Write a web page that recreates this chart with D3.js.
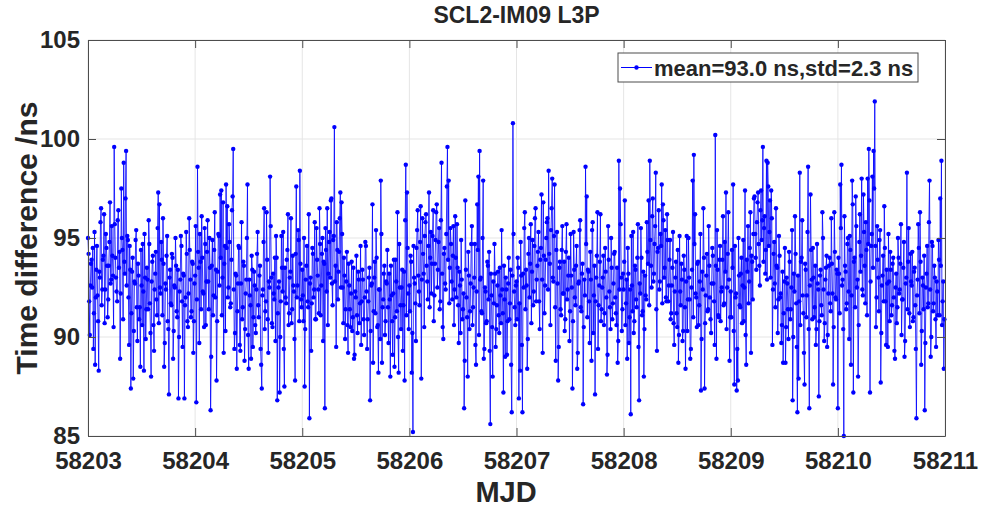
<!DOCTYPE html>
<html><head><meta charset="utf-8">
<script src="https://cdn.jsdelivr.net/npm/d3@7"></script>
<style>body{margin:0;background:#fff}svg{display:block}text{font-family:"Liberation Sans",Arial,sans-serif;font-weight:bold;fill:#262626}</style>
</head><body><svg id="c" width="984" height="508"></svg>
<script>
const title = "SCL2-IM09 L3P";
const xLabel = "MJD";
const yLabel = "Time difference /ns";
const legendLabel = "mean=93.0 ns,std=2.3 ns";
const startMJD = 58203;
const samplesPerDay = 180;
const xTicks = [58203,58204,58205,58206,58207,58208,58209,58210,58211];
const yTicks = [85,90,95,100,105];
// samples on the even slots of each day
const day0 = [95.0,91.8,92.6,93.9,94.5,91.2,88.6,93.4,92.1,88.3,93.0,96.5,92.4,94.1,90.7,95.2,93.6,91.9,94.8,92.7,95.6,93.1,99.6,94.0,92.3,95.9,93.5,88.9,97.5,94.4,98.8,93.2,99.4,95.1,92.0,94.6,87.4,93.3,87.9,92.8,94.9,91.5,93.7,90.9,88.5,92.6,94.7,88.3,93.0,91.4,92.9,95.9,91.7,88.0,93.8,90.6,92.4,94.3,91.1,97.3,96.7,92.2,93.9,96.0,88.5,92.7,94.1,90.8,87.1,93.4,91.6,94.0,90.3,92.5,93.6,91.0,86.9,92.3,95.1,91.8,93.2,86.9,92.0,94.2,90.5,96.0,92.9,91.3,93.7,90.8];
const day1 = [93.1,86.7,98.6,93.5,95.2,91.4,94.0,92.2,95.5,90.6,94.3,92.8,95.0,86.3,93.6,91.1,94.4,92.0,87.8,93.3,95.1,97.2,97.4,93.0,89.2,94.6,97.7,96.6,92.5,94.8,91.7,96.4,99.5,89.4,93.2,88.4,92.7,94.5,89.3,95.8,91.5,93.6,90.4,92.9,97.7,88.4,92.1,88.9,93.4,91.0,92.6,90.2,94.2,91.6,93.1,89.4,87.4,92.4,96.5,91.3,96.3,90.9,92.8,98.1,93.0,90.5,92.2,94.0,95.1,86.8,92.5,87.2,91.8,93.5,95.3,87.5,92.0,93.9,96.2,91.2,93.3,90.7,94.1,92.3,87.8,97.6,92.6,94.9,98.4,91.9];
const day2 = [93.4,90.8,87.5,92.9,94.6,91.5,85.9,93.0,91.7,94.2,92.4,90.9,95.5,93.1,91.2,94.7,92.6,95.0,93.8,86.4,94.4,96.5,93.2,95.3,96.9,92.7,94.9,100.6,93.6,95.8,91.9,94.3,97.3,96.8,92.5,94.0,89.9,92.8,90.6,93.7,91.4,92.2,90.3,93.5,89.1,92.0,91.1,93.3,90.7,94.6,91.8,92.9,90.1,94.8,92.3,90.9,93.0,86.8,92.6,96.7,91.3,93.8,95.4,90.5,88.2,92.4,97.9,88.7,91.9,93.6,90.8,92.7,91.5,93.2,88.0,92.1,89.1,93.9,91.0,92.8,96.3,88.2,92.5,90.4,93.4,91.6,87.8,98.7,97.3,92.2];
const day3 = [92.6,94.1,88.2,85.2,93.0,91.7,94.5,96.4,92.3,94.8,87.9,96.0,93.2,95.1,96.2,92.8,94.6,91.5,95.3,93.7,96.4,92.1,94.9,96.7,93.4,95.5,91.8,98.8,90.5,94.2,92.7,95.2,99.6,97.9,93.5,94.7,91.9,95.6,92.4,94.0,95.7,91.6,93.3,90.2,92.9,91.4,86.4,96.9,92.0,88.0,93.1,91.3,94.7,90.6,92.5,94.7,88.6,96.7,98.1,99.4,93.0,91.2,97.9,89.4,92.3,90.8,93.6,94.3,85.6,92.1,88.0,91.7,93.2,90.4,92.6,91.1,93.5,90.7,92.4,87.2,91.9,93.0,89.1,92.7,90.9,93.4,86.2,100.8,92.3,90.6];
const day4 = [92.8,94.0,86.9,88.3,93.1,86.2,92.5,96.3,93.4,88.4,94.2,92.0,95.7,93.3,91.6,94.6,96.5,92.9,94.3,91.8,93.9,97.2,89.2,94.1,92.6,95.0,96.0,98.4,93.7,95.4,98.0,92.8,97.7,88.8,95.3,87.8,93.5,91.4,94.4,92.2,93.8,90.9,95.7,92.4,94.0,91.3,93.1,87.4,95.3,92.0,93.6,88.4,92.7,95.4,91.5,93.2,86.6,92.9,98.6,97.1,93.4,91.8,94.3,88.8,95.8,92.1,87.1,93.0,96.3,91.6,93.8,90.8,92.5,94.1,91.2,93.3,88.1,95.6,92.3,90.4,93.5,91.7,94.2,92.0,90.6,88.7,98.9,97.5,93.0,91.4];
const day5 = [92.4,96.9,91.7,88.9,93.2,91.0,86.1,92.6,95.3,90.8,93.4,91.5,95.7,86.8,92.2,94.0,91.3,88.0,93.1,91.9,94.3,96.9,98.9,93.6,96.1,92.8,94.7,98.3,89.3,94.5,92.4,95.2,97.7,96.7,93.0,95.4,91.8,94.9,92.6,94.9,91.2,93.5,90.7,92.3,93.8,90.5,88.7,95.1,91.6,92.9,90.3,93.4,88.4,95.1,91.9,93.0,88.9,92.5,97.9,99.2,96.2,92.0,93.7,90.6,92.8,87.3,93.3,96.5,87.4,92.1,94.2,91.4,93.6,90.9,92.7,94.1,91.8,100.2,88.9,93.4,91.0,94.6,92.3,93.9,91.6,94.8,97.3,92.5,96.3,88.8];
const day6 = [92.3,94.4,97.7,87.6,92.0,87.3,87.8,93.1,91.5,94.0,92.6,90.8,97.4,88.6,93.3,91.7,94.5,89.2,93.8,95.2,97.1,94.0,95.8,97.3,93.6,96.4,94.9,99.6,95.5,93.2,98.9,98.8,94.6,96.9,97.4,89.6,94.2,92.7,96.5,93.5,91.9,94.1,92.2,90.6,88.7,92.8,88.7,93.0,91.4,94.3,90.9,92.5,86.8,93.2,96.1,91.7,86.2,87.9,98.3,93.8,95.9,91.2,87.6,93.4,92.1,98.6,86.4,97.2,92.9,94.5,91.0,93.6,90.4,92.7,87.0,93.1,91.6,96.3,92.4,90.7,93.5,89.5,92.2,94.0,91.3,93.7,87.6,96.3,92.0,93.4];
const day7 = [86.4,93.2,97.7,98.7,92.9,85.0,93.6,91.4,94.7,92.3,95.1,88.6,97.9,87.2,94.0,97.1,92.5,88.0,94.8,93.3,98.0,92.1,95.3,91.7,94.4,98.0,99.5,87.2,94.6,98.1,99.4,101.9,90.5,95.6,93.0,94.9,87.7,92.6,94.1,96.6,91.8,93.4,89.5,92.8,94.3,91.1,93.7,92.0,88.9,93.2,91.5,94.0,92.4,95.7,91.9,93.5,89.0,92.7,98.3,93.8,91.2,94.2,92.6,90.8,93.3,91.6,85.9,92.9,94.5,96.3,88.6,93.0,91.4,86.3,92.5,94.6,91.7,97.9,89.0,94.8,91.3,93.6,90.9,92.8,91.1,93.9,97.0,98.9,91.8,88.4];
// samples on the odd slots of each day
const day0b = [94.2,90.1,93.7,92.5,89.4,95.3,92.0,94.6,90.8,93.3,95.8,91.6,93.9,96.2,92.4,94.5,91.0,93.6,96.8,92.9,94.1,90.5,95.7,93.0,91.8,96.4,94.3,92.2,95.0,90.9,93.8,97.0,92.6,94.9,89.6,93.4,91.2,94.0,90.3,92.7,95.4,89.8,93.1,91.5,94.4,90.6,92.3,95.2,89.9,93.5,91.4,94.7,90.2,92.8,94.1,89.3,93.2,91.9,95.5,90.7,92.5,94.8,91.1,93.7,89.7,92.4,95.1,90.4,93.0,91.7,94.2,88.9,92.6,95.0,91.3,93.4,90.0,92.9,94.6,89.5,93.1,91.6,95.3,90.8,92.2,94.4,91.0,93.8,89.2,92.7];
const day1b = [95.6,91.9,94.3,89.7,93.8,96.1,92.3,90.5,94.7,92.8,95.9,91.4,93.5,89.0,94.9,92.1,96.3,93.4,90.8,95.2,92.6,94.0,91.1,96.8,93.7,90.3,94.5,92.0,95.7,91.5,93.9,97.1,92.4,90.2,93.1,91.3,94.6,89.6,92.7,90.9,93.8,88.8,92.2,95.0,90.1,92.9,91.6,94.1,89.5,93.3,90.6,92.4,95.3,91.0,93.6,88.6,92.1,94.8,90.4,91.8,93.9,89.2,92.5,95.6,90.7,93.2,91.9,89.8,94.0,91.2,92.8,90.0,95.1,92.3,89.4,93.5,91.7,94.4,90.6,93.0,96.0,91.4,92.6,89.9,94.2,92.0,95.4,90.8,93.7,91.5];
const day2b = [92.1,95.0,90.4,93.6,91.8,96.2,92.7,89.3,94.5,92.0,95.8,90.9,93.9,92.4,96.5,91.1,94.2,89.8,93.7,95.5,92.3,90.6,94.8,93.0,97.0,91.6,95.1,92.8,89.5,94.4,93.3,96.0,92.5,95.2,90.7,93.1,91.4,94.3,89.2,92.6,90.5,93.8,91.0,88.9,92.3,94.1,90.2,92.9,91.7,89.6,93.4,90.9,92.0,94.6,89.4,91.8,93.5,90.3,92.7,88.7,93.0,91.2,94.0,90.6,92.4,89.9,95.2,91.5,93.2,90.1,92.8,94.4,89.7,91.9,93.6,90.8,92.2,88.5,93.9,91.3,90.0,94.7,91.6,92.5,89.3,93.3,95.9,91.1,94.5,90.4];
const day3b = [91.3,93.8,90.2,94.6,92.7,89.8,95.4,93.1,91.6,96.6,92.9,94.2,90.5,95.8,93.6,91.9,97.3,94.0,92.2,95.1,90.8,93.7,96.3,92.5,94.8,91.4,95.9,93.2,89.9,94.5,92.4,97.6,93.9,91.7,95.5,92.8,94.1,90.6,96.1,92.0,93.5,89.7,92.6,94.9,90.9,92.2,88.8,93.4,91.0,94.3,90.4,92.7,95.6,91.5,93.0,89.6,92.3,94.4,90.1,92.9,91.3,95.0,88.9,92.5,90.7,93.8,91.9,89.3,93.2,90.5,92.8,94.7,89.5,91.6,93.3,90.2,92.1,95.4,91.2,93.6,89.0,92.4,90.8,94.0,91.7,88.6,93.1,95.2,91.5,92.6];
const day4b = [90.9,93.5,91.7,94.8,89.6,93.2,95.5,91.4,92.6,89.9,95.0,93.7,90.7,94.9,92.3,96.0,91.8,93.6,95.3,90.4,94.5,92.9,96.8,91.2,93.9,95.8,92.4,94.2,90.6,96.5,93.0,95.1,91.5,94.4,92.7,89.5,93.8,91.1,95.6,92.2,90.3,94.3,91.9,93.1,89.8,95.2,92.5,90.8,93.4,91.6,94.6,89.2,92.8,95.9,91.3,93.7,90.5,92.1,94.7,91.0,93.3,89.7,92.9,95.4,90.2,93.6,91.8,94.1,89.4,92.6,96.2,91.4,93.0,90.6,94.5,92.0,89.1,93.9,91.5,95.0,90.9,92.7,94.3,91.2,93.5,89.8,92.4,95.7,90.3,93.2];
const day5b = [93.8,90.6,92.9,94.5,89.7,92.4,95.1,91.3,90.2,93.6,91.9,94.0,89.5,92.7,95.5,91.1,93.3,90.4,92.1,95.8,93.7,91.6,94.9,92.5,97.0,93.2,95.6,91.4,94.3,96.4,92.8,94.6,91.7,95.9,93.5,92.0,96.2,91.8,93.9,90.9,92.6,95.3,89.6,93.0,91.2,94.4,90.1,92.3,93.7,89.8,94.1,91.5,92.8,90.3,95.0,91.9,89.4,93.4,91.0,94.7,92.2,90.5,93.8,91.6,95.2,89.9,92.4,94.0,90.7,93.1,91.3,95.6,92.0,90.2,94.5,92.7,89.6,93.6,95.4,91.1,93.9,90.8,92.5,96.1,91.7,93.3,90.4,94.2,92.9,91.0];
const day6b = [91.0,93.5,90.3,94.6,92.2,89.4,95.0,91.6,93.2,90.7,94.9,92.5,90.1,93.9,95.6,92.8,96.3,94.1,91.9,97.0,95.2,93.4,96.8,94.7,92.6,97.4,95.9,93.8,96.1,94.4,92.9,97.6,95.3,93.0,96.0,92.4,94.8,91.5,93.6,90.2,95.1,92.0,89.7,93.3,91.2,94.5,90.5,92.7,89.9,93.8,91.4,95.4,90.0,92.3,94.2,89.5,93.1,91.8,90.6,94.0,92.1,89.2,93.7,91.0,95.3,90.4,92.6,94.4,90.9,93.0,91.5,89.6,94.7,92.4,90.8,93.4,91.1,95.0,89.8,92.9,94.1,90.1,93.6,91.7,96.0,92.2,90.5,94.3,91.9,93.2];
const day7b = [94.0,91.2,95.5,92.6,90.4,96.1,93.3,91.7,95.0,89.9,94.4,92.1,96.7,93.8,91.5,95.6,92.9,90.6,96.2,94.1,92.4,97.2,93.6,95.8,91.1,94.7,96.9,92.8,95.2,93.5,97.5,94.6,92.0,93.9,91.3,95.4,90.2,93.1,91.8,94.5,89.6,92.7,95.2,90.8,93.4,91.6,94.0,89.3,92.5,90.7,95.0,92.2,93.7,90.1,91.9,94.8,89.8,93.0,91.4,95.5,90.5,92.8,94.3,91.0,93.5,89.4,92.1,95.7,91.2,93.8,90.3,92.6,94.1,89.7,93.2,91.5,95.8,92.4,90.0,94.6,91.7,93.0,89.5,92.3,94.9,91.1,93.6,90.6,92.8,90.9];

const daysA = [day0,day1,day2,day3,day4,day5,day6,day7];
const daysB = [day0b,day1b,day2b,day3b,day4b,day5b,day6b,day7b];
const data = [];
daysA.forEach((arr,d)=>arr.forEach((v,j)=>{
  data.push({t:startMJD+d+(2*j)/samplesPerDay,v});
  data.push({t:startMJD+d+(2*j+1)/samplesPerDay,v:daysB[d][j]});
}));

const m={l:88,r:945,t:40,b:436};
const svg=d3.select("#c");
const x=d3.scaleLinear().domain([58203,58211]).range([m.l,m.r]);
const y=d3.scaleLinear().domain([85,105]).range([m.b,m.t]);
const axisCol="#4d4d4d";
const tl=8;

svg.append("g").selectAll("line").data(xTicks).join("line")
  .attr("x1",d=>x(d)).attr("x2",d=>x(d)).attr("y1",m.t).attr("y2",m.b)
  .attr("stroke","#e5e5e5").attr("stroke-width",1);
svg.append("g").selectAll("line").data(yTicks).join("line")
  .attr("y1",d=>y(d)).attr("y2",d=>y(d)).attr("x1",m.l).attr("x2",m.r)
  .attr("stroke","#e5e5e5").attr("stroke-width",1);

const plot=svg.append("g");
plot.append("path").datum(data)
  .attr("d",d3.line().x(d=>x(d.t)).y(d=>y(d.v)))
  .attr("fill","none").attr("stroke","#0000ff").attr("stroke-width",1).attr("stroke-opacity",0.8);
plot.append("g").selectAll("circle").data(data).join("circle")
  .attr("cx",d=>x(d.t)).attr("cy",d=>y(d.v)).attr("r",2.2).attr("fill","#0000ff");

function styleAxis(g){g.select(".domain").attr("stroke",axisCol);g.selectAll(".tick line").attr("stroke",axisCol);g.selectAll("text").attr("fill","#262626").style("font-size","24px").style("font-weight","bold").style("font-family",'"Liberation Sans",Arial,sans-serif');}
svg.append("g").attr("transform",`translate(0,${m.b})`)
  .call(d3.axisBottom(x).tickValues(xTicks).tickFormat(d3.format("d")).tickSizeInner(-tl).tickSizeOuter(0).tickPadding(10))
  .call(styleAxis).call(g=>g.selectAll("text").attr("dy","0.95em"));
svg.append("g").attr("transform",`translate(${m.l},0)`)
  .call(d3.axisLeft(y).tickValues(yTicks).tickFormat(d3.format("d")).tickSizeInner(-tl).tickSizeOuter(0).tickPadding(8))
  .call(styleAxis);
svg.append("g").attr("transform",`translate(0,${m.t})`)
  .call(d3.axisTop(x).tickValues(xTicks).tickFormat("").tickSizeInner(-tl).tickSizeOuter(0))
  .call(styleAxis);
svg.append("g").attr("transform",`translate(${m.r},0)`)
  .call(d3.axisRight(y).tickValues(yTicks).tickFormat("").tickSizeInner(-tl).tickSizeOuter(0))
  .call(styleAxis);

svg.append("text").attr("x",(m.l+m.r)/2).attr("y",23).attr("text-anchor","middle").style("font-size","23px").text(title);
svg.append("text").attr("x",506).attr("y",502).attr("text-anchor","middle").style("font-size","29px").text(xLabel);
svg.append("text").attr("transform",`translate(37,${(m.t+m.b)/2}) rotate(-90)`).attr("text-anchor","middle").style("font-size","30px").text(yLabel);

const lg=svg.append("g");
lg.append("rect").attr("x",618).attr("y",53).attr("width",300).attr("height",29).attr("fill","#fff").attr("stroke",axisCol).attr("stroke-width",1);
lg.append("line").attr("x1",621).attr("x2",652).attr("y1",67.5).attr("y2",67.5).attr("stroke","#0000ff").attr("stroke-width",1);
lg.append("circle").attr("cx",636.5).attr("cy",67.5).attr("r",2.2).attr("fill","#0000ff");
lg.append("text").attr("x",654).attr("y",75.5).style("font-size","22px").text(legendLabel);
</script></body></html>
